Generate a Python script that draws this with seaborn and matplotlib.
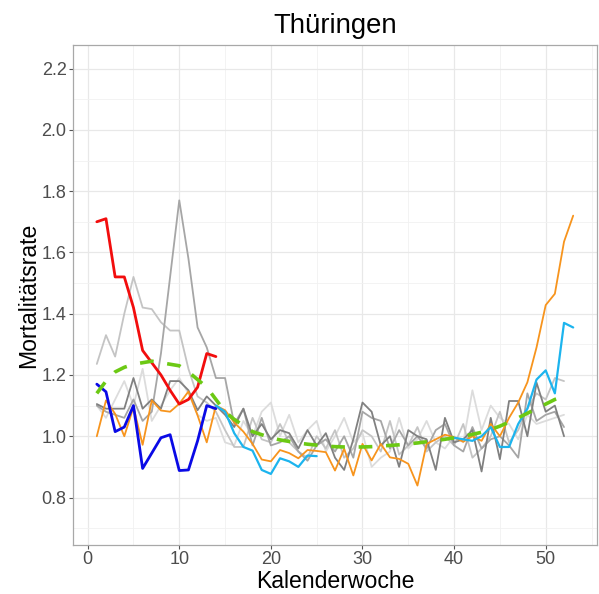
import numpy as np
import pandas as pd
import matplotlib
matplotlib.use("Agg")
import matplotlib.pyplot as plt
import seaborn as sns

# ---------------- data ----------------
weeks = list(range(1, 54))

gray_dark = [1.105, 1.09, 1.09, 1.09, 1.19, 1.09, 1.12, 1.09, 1.18, 1.18, 1.15, 1.085, 1.13, 1.10,
             1.07, 1.03, 1.09, 1.00, 1.04, 0.99, 1.02, 1.01, 0.96, 1.02, 0.97, 1.01, 0.93, 0.89, 0.99, 1.11,
             1.08, 0.97, 1.00, 0.90, 1.02, 1.00, 0.99, 0.89, 1.06, 0.98, 0.99, 1.02, 0.885, 1.06, 0.925,
             1.115, 1.115, 1.00, 1.175, 1.08, 1.10, 1.00, None]
gray_mid = [1.10, 1.08, 1.07, 1.06, 1.12, 1.05, 1.08, 1.27, 1.52, 1.77, 1.58, 1.355, 1.29, 1.19,
            1.19, 1.04, 1.09, 0.97, 1.06, 0.97, 0.98, 1.00, 0.95, 0.92, 0.97, 0.99, 0.95, 1.00, 0.93, 1.08,
            1.06, 1.05, 0.96, 1.02, 0.97, 1.00, 0.96, 1.02, 1.04, 0.97, 0.95, 1.03, 0.96, 0.99, 1.00,
            0.97, 0.93, 1.14, 1.05, 1.07, 1.08, 1.03, None]
gray_light = [1.236, 1.33, 1.26, 1.40, 1.52, 1.42, 1.415, 1.372, 1.345, 1.345, 1.22, 1.13, 1.11, 1.08,
              1.02, 0.965, 0.965, 1.06, 0.99, 0.98, 1.04, 0.98, 0.95, 0.93, 1.00, 0.96, 1.02, 0.93, 0.96, 1.02,
              1.00, 0.95, 1.05, 0.94, 0.97, 1.03, 0.95, 0.98, 1.00, 0.97, 1.04, 0.93, 0.96, 1.00, 1.08,
              0.98, 1.02, 1.09, 1.14, 1.12, 1.19, 1.18, None]
gray_pale = [1.10, 1.06, 1.12, 1.18, 1.10, 1.22, 1.05, 1.10, 1.15, 1.19, 1.14, 1.07, 1.05, 1.06,
             0.98, 0.97, 1.05, 1.00, 1.08, 1.11, 1.00, 1.07, 0.98, 1.02, 1.05, 0.95, 1.00, 1.06, 0.98, 1.01,
             0.90, 0.93, 0.95, 1.06, 0.96, 0.99, 1.05, 0.98, 0.96, 1.00, 0.98, 1.15, 1.02, 1.10, 1.06,
             1.04, 0.99, 1.07, 1.04, 1.05, 1.06, 1.07, None]

orange = [1.00, 1.117, 1.073, 1.00, 1.095, 0.972, 1.117, 1.084, 1.08, 1.106, 1.146, 1.068, 0.98, 1.10,
          1.085, 1.045, 1.015, 0.975, 0.924, 0.918, 0.955, 0.945, 0.928, 0.955, 0.952, 0.948, 0.888,
          0.959, 0.872, 0.975, 0.921, 0.975, 0.931, 0.926, 0.91, 0.839, 0.975, 0.99, 1.005, 0.997,
          0.982, 1.00, 0.985, 1.04, 1.00, 1.06, 1.11, 1.176, 1.29, 1.428, 1.465, 1.635, 1.72]

cyan_weeks_a = list(range(14, 26))
cyan_a = [1.10, 1.08, 1.01, 0.965, 0.953, 0.89, 0.877, 0.928, 0.918, 0.90, 0.937, 0.935]
cyan_weeks_b = list(range(40, 54))
cyan_b = [0.995, 0.99, 0.985, 1.00, 1.03, 0.965, 0.965, 1.04, 1.09, 1.185, 1.215, 1.14, 1.37, 1.355]

red_weeks = list(range(1, 15))
red = [1.70, 1.71, 1.52, 1.52, 1.42, 1.28, 1.24, 1.20, 1.15, 1.105, 1.12, 1.16, 1.27, 1.26]
blue = [1.17, 1.145, 1.015, 1.03, 1.10, 0.895, 0.945, 0.995, 1.005, 0.888, 0.89, 0.985, 1.10, 1.09]

mean_weeks = list(range(1, 53))
mean_rate = [1.14, 1.18, 1.21, 1.225, 1.235, 1.24, 1.245, 1.24, 1.235, 1.23, 1.21, 1.185, 1.16, 1.12,
             1.08, 1.055, 1.035, 1.015, 1.005, 0.995, 0.988, 0.983, 0.978, 0.974, 0.971, 0.968, 0.966,
             0.965, 0.965, 0.965, 0.966, 0.968, 0.97, 0.972, 0.975, 0.978, 0.982, 0.986, 0.99, 0.995,
             1.00, 1.006, 1.013, 1.022, 1.033, 1.046, 1.06, 1.075, 1.09, 1.105, 1.12, 1.13]

x_ticks = [0, 10, 20, 30, 40, 50]
y_ticks = [0.8, 1.0, 1.2, 1.4, 1.6, 1.8, 2.0, 2.2]
y_tick_labels = ["0.8", "1.0", "1.2", "1.4", "1.6", "1.8", "2.0", "2.2"]

# ---------------- figure ----------------
sns.set_theme(style="white")
plt.rcParams['font.family'] = ['Liberation Sans', 'DejaVu Sans']

fig = plt.figure(figsize=(5.99, 5.94), dpi=100)
ax = fig.add_axes([73 / 599, 49 / 594, 524 / 599, 500 / 594])

def draw(xs, ys, color, lw, z, dashes=None):
    df = pd.DataFrame({"week": xs, "rate": ys}).dropna()
    kw = {}
    sns.lineplot(data=df, x="week", y="rate", color=color, linewidth=lw, ax=ax,
                 estimator=None, sort=False, zorder=z, legend=False)
    line = ax.lines[-1]
    line.set_solid_joinstyle("round")
    if dashes is not None:
        line.set_dashes(dashes)
        line.set_dash_capstyle("butt")

draw(weeks, gray_pale, "#DCDCDC", 1.3, 3)
draw(weeks, gray_light, "#C4C4C4", 1.3, 3.1)
draw(weeks, gray_mid, "#A6A6A6", 1.3, 3.2)
draw(weeks, gray_dark, "#808080", 1.3, 3.3)
draw(weeks, orange, "#F7941D", 1.3, 4)
draw(cyan_weeks_a, cyan_a, "#1CB4EE", 1.6, 4.1)
draw(cyan_weeks_b, cyan_b, "#1CB4EE", 1.6, 4.1)
draw(red_weeks, blue, "#0A0AE6", 2.0, 4.3)
draw(red_weeks, red, "#F20D0D", 2.0, 4.4)
draw(mean_weeks, mean_rate, "#6CC914", 2.6, 5, dashes=(3.8, 3.8))

ax.set_xlim(-1.6, 55.6)
ax.set_ylim(0.645, 2.277)
ax.set_xticks(x_ticks)
ax.set_xticks([5, 15, 25, 35, 45, 55], minor=True)
ax.set_yticks(y_ticks)
ax.set_yticklabels(y_tick_labels)
ax.set_yticks([0.7, 0.9, 1.1, 1.3, 1.5, 1.7, 1.9, 2.1], minor=True)

ax.grid(which="major", color="#E8E8E8", linewidth=0.9, zorder=0)
ax.grid(which="minor", color="#F1F1F1", linewidth=0.6, zorder=0)
ax.set_axisbelow(True)
for s in ax.spines.values():
    s.set_color("#A8A8A8")
    s.set_linewidth(0.9)

ax.tick_params(axis="both", which="major", length=2.8, width=0.8, color="#555555",
               labelsize=13, labelcolor="#4D4D4D", pad=1.8, bottom=True, left=True)
ax.tick_params(axis="both", which="minor", length=0)

ax.set_xlabel("Kalenderwoche", fontsize=16.6, color="black")
ax.set_ylabel("Mortalitätsrate", fontsize=16.6, color="black")
ax.xaxis.set_label_coords(0.5, -43 / 500)
ax.xaxis.label.set_va("baseline")
ax.yaxis.set_label_coords(-44 / 524, 0.5)
ax.yaxis.label.set_va("center")

fig.text((73 + 597) / 2 / 599, 1 - 33 / 594, "Thüringen", fontsize=19.8, ha="center",
         va="baseline", color="black")

fig.savefig("out.png", dpi=100)
